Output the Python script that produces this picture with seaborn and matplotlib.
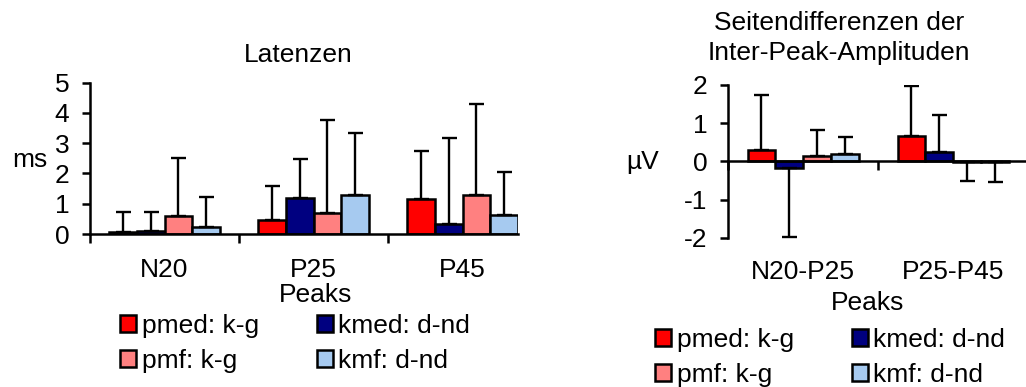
import numpy as np
import pandas as pd
import matplotlib.pyplot as plt
import seaborn as sns
from matplotlib.patches import Patch
from matplotlib.ticker import FixedLocator, NullFormatter

sns.set_theme(style='ticks')
plt.rcParams['font.family'] = ['Liberation Sans', 'DejaVu Sans']
plt.rcParams['axes.unicode_minus'] = False
for key in ['text.color', 'axes.labelcolor', 'xtick.color', 'ytick.color', 'axes.edgecolor']:
    plt.rcParams[key] = 'black'

# =====================================================
# DATA
# =====================================================
series = ['pmed: k-g', 'kmed: d-nd', 'pmf: k-g', 'kmf: d-nd']
colors = ['#FF0000', '#000080', '#FF8080', '#A6CAF0']

lat_peaks = ['N20', 'P25', 'P45']
lat_mean = {
    'pmed: k-g': [0.05, 0.45, 1.16],
    'kmed: d-nd': [0.10, 1.19, 0.32],
    'pmf: k-g': [0.60, 0.70, 1.29],
    'kmf: d-nd': [0.23, 1.30, 0.62],
}
lat_sd = {
    'pmed: k-g': [0.68, 1.14, 1.59],
    'kmed: d-nd': [0.64, 1.28, 2.85],
    'pmf: k-g': [1.92, 3.06, 3.02],
    'kmf: d-nd': [1.00, 2.05, 1.44],
}

amp_peaks = ['N20-P25', 'P25-P45']
amp_mean = {
    'pmed: k-g': [0.31, 0.66],
    'kmed: d-nd': [-0.17, 0.24],
    'pmf: k-g': [0.15, -0.01],
    'kmf: d-nd': [0.19, -0.01],
}
amp_sd = {
    'pmed: k-g': [1.44, 1.31],
    'kmed: d-nd': [1.82, 0.97],
    'pmf: k-g': [0.67, 0.51],
    'kmf: d-nd': [0.46, 0.54],
}

FS = 19
LW = 1.8


def to_long(peaks, mean, sd):
    rows = []
    for s in series:
        for p, m, e in zip(peaks, mean[s], sd[s]):
            rows.append({'peak': p, 'series': s, 'value': m, 'sd': e})
    return pd.DataFrame(rows)


def draw_bars(ax, df, peaks):
    sns.barplot(ax=ax, data=df, x='peak', y='value', hue='series',
                order=peaks, hue_order=series, palette=colors, width=0.74,
                edgecolor='black', linewidth=LW, errorbar=None, legend=False,
                saturation=1)
    # one-sided error bars, pointing away from zero
    for s, cont in zip(series, ax.containers):
        sub = df[df['series'] == s].set_index('peak').loc[peaks]
        xs = [p.get_x() + p.get_width() / 2 for p in cont.patches]
        vals = sub['value'].values
        sds = sub['sd'].values
        lower = np.where(vals < 0, sds, 0)
        upper = np.where(vals >= 0, sds, 0)
        ax.errorbar(xs, vals, yerr=[lower, upper], fmt='none', ecolor='black',
                    elinewidth=1.7, capsize=5.4, capthick=1.7, zorder=1)


def style_axis(ax, peaks, label_pad):
    sns.despine(ax=ax)
    for sp in ['left', 'bottom']:
        ax.spines[sp].set_linewidth(LW)
    ax.xaxis.set_major_locator(FixedLocator([i - 0.5 for i in range(len(peaks))]))
    ax.xaxis.set_major_formatter(NullFormatter())
    ax.set_xticks(range(len(peaks)), minor=True)
    ax.set_xticklabels(peaks, minor=True, fontsize=FS)
    ax.tick_params(axis='x', which='major', direction='out', length=6.5, width=LW)
    ax.tick_params(axis='x', which='minor', length=0, pad=label_pad)
    ax.tick_params(axis='y', direction='out', length=6, width=LW, pad=9, labelsize=FS)


fig = plt.figure(figsize=(10.26, 3.87), dpi=100)
W, H = 1026, 387

# =====================================================
# LEFT: LATENZEN
# =====================================================
ax1 = fig.add_axes([90 / W, 1 - 234 / H, 428 / W, 151.3 / H])
lat_df = to_long(lat_peaks, lat_mean, lat_sd)
draw_bars(ax1, lat_df, lat_peaks)
ax1.set_ylim(0, 5)
ax1.set_xlim(-0.5, 2.372)
ax1.set_yticks(range(0, 6))
style_axis(ax1, lat_peaks, 17)
ax1.set_title('Latenzen', fontsize=FS, x=0.486, pad=15)
ax1.set_ylabel('ms', fontsize=FS, rotation=0, ha='center', va='center')
ax1.yaxis.set_label_coords(-0.14, 0.49)
ax1.set_xlabel('Peaks', fontsize=FS, va='center')
ax1.xaxis.set_label_coords(0.528, -0.403)

# =====================================================
# RIGHT: SEITENDIFFERENZEN
# =====================================================
ax2 = fig.add_axes([728 / W, 1 - 237.7 / H, 300 / W, 152.7 / H])
amp_df = to_long(amp_peaks, amp_mean, amp_sd)
draw_bars(ax2, amp_df, amp_peaks)
ax2.set_ylim(-2, 2)
ax2.set_xlim(-0.5, 1.5)
ax2.set_yticks(range(-2, 3))
sns.despine(ax=ax2)
ax2.spines['bottom'].set_position(('data', 0))
style_axis(ax2, amp_peaks, 71)
ax2.set_title('Seitendifferenzen der\nInter-Peak-Amplituden', fontsize=FS,
              x=0.37, pad=18, linespacing=1.3)
ax2.set_ylabel('µV', fontsize=FS, rotation=0, ha='center', va='center')
ax2.yaxis.set_label_coords(-0.283, 0.496)
ax2.set_xlabel('Peaks', fontsize=FS, va='center')
ax2.xaxis.set_label_coords(0.465, -0.428)

# =====================================================
# LEGENDS
# =====================================================
handles = [Patch(facecolor=c, edgecolor='black', linewidth=LW) for c in colors]
order = [0, 2, 1, 3]
leg_kw = dict(ncol=2, frameon=False, fontsize=FS, handlelength=0.62,
              handleheight=0.62, handletextpad=0.2, columnspacing=2.2,
              labelspacing=0.4, borderpad=0, borderaxespad=0, loc='upper left')
fig.legend([handles[i] for i in order], [series[i] for i in order],
           bbox_to_anchor=(120 / W, 1 - 314 / H), **leg_kw)
fig.legend([handles[i] for i in order], [series[i] for i in order],
           bbox_to_anchor=(655 / W, 1 - 328 / H), **leg_kw)

fig.savefig('out.png', dpi=100)
plt.close()
